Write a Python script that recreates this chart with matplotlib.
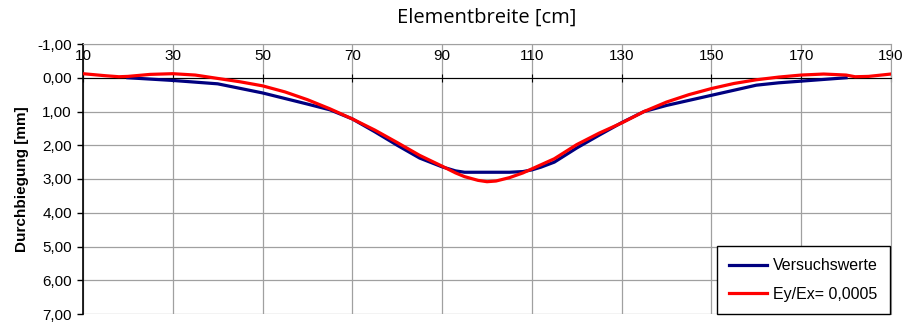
import numpy as np
import matplotlib
matplotlib.use("Agg")
from matplotlib import pyplot as plt
from matplotlib.ticker import FuncFormatter

# measured deflection (blue)
x_versuch = [20, 30, 40, 50, 60, 65, 70, 75, 80, 85, 90, 93, 95, 100, 105, 108, 110, 112, 115, 120, 125, 130, 135, 140, 150, 160, 165, 170, 180]
y_versuch = [0.00, 0.08, 0.18, 0.45, 0.78, 0.95, 1.22, 1.60, 2.00, 2.38, 2.64, 2.76, 2.80, 2.80, 2.80, 2.78, 2.73, 2.65, 2.50, 2.08, 1.70, 1.33, 1.00, 0.82, 0.52, 0.22, 0.15, 0.10, 0.00]

# computed deflection Ey/Ex = 0,0005 (red)
x_calc = [10, 15, 18, 20, 25, 30, 35, 40, 45, 50, 55, 60, 65, 70, 75, 80, 85, 90, 93, 95, 98, 100, 102, 105, 108, 110, 115, 120, 125, 130, 135, 140, 145, 150, 155, 160, 165, 170, 175, 180, 182, 185, 190]
y_calc = [-0.12, -0.06, -0.03, -0.04, -0.10, -0.12, -0.08, 0.02, 0.12, 0.24, 0.42, 0.65, 0.92, 1.22, 1.55, 1.92, 2.30, 2.62, 2.82, 2.93, 3.04, 3.08, 3.06, 2.96, 2.82, 2.70, 2.40, 1.98, 1.64, 1.34, 1.00, 0.72, 0.50, 0.32, 0.17, 0.06, -0.02, -0.08, -0.11, -0.08, -0.03, -0.04, -0.11]

x_ticks = [10, 30, 50, 70, 90, 110, 130, 150, 170, 190]
y_ticks = [-1, 0, 1, 2, 3, 4, 5, 6, 7]

plt.rcParams['font.family'] = ['Liberation Sans', 'DejaVu Sans']

fig = plt.figure(figsize=(9.03, 3.22), dpi=100)
ax = fig.add_axes([83/903, 1-314/322, 808/903, 270/322])

ax.plot(x_versuch, y_versuch, color='#000080', lw=2.3, label='Versuchswerte', zorder=3)
ax.plot(x_calc, y_calc, color='#ff0000', lw=2.3, label='Ey/Ex= 0,0005', zorder=4)

ax.set_xlim(10, 190)
ax.set_ylim(7, -1)
ax.set_xticks(x_ticks)
ax.set_yticks(y_ticks)
ax.grid(True, color='#a0a0a0', lw=0.9)
ax.set_axisbelow(True)

ax.yaxis.set_major_formatter(FuncFormatter(lambda v, p: f"{v:.2f}".replace('.', ',')))
ax.tick_params(axis='y', direction='out', length=4, width=1, labelsize=11, pad=4)

# x axis line crosses at 0, labels sit inside the top of the plot
ax.spines['bottom'].set_position(('data', 0))
ax.spines['bottom'].set_color('black')
ax.tick_params(axis='x', which='both', bottom=True, top=False, direction='inout', length=6,
               labelbottom=False, labeltop=True, labelsize=11, pad=-17)
for s in ['top', 'right']:
    ax.spines[s].set_color('#a0a0a0')
ax.spines['left'].set_color('black')
ax.spines['left'].set_linewidth(1.2)

ax.text(0.5, 1.0 + 26/270, 'Elementbreite [cm]', transform=ax.transAxes,
        ha='center', va='center', fontsize=14.5, family=['Open Sans', 'DejaVu Sans'])
ax.set_ylabel('Durchbiegung [mm]', fontsize=11, fontweight='bold', labelpad=6)

leg = ax.legend(loc='lower right', bbox_to_anchor=(0.9985, 0.0), borderaxespad=0,
                fancybox=False, edgecolor='black', framealpha=1, fontsize=11.5,
                handlelength=2.4, labelspacing=0.85, borderpad=0.75, handletextpad=0.35)
leg.get_frame().set_linewidth(1.0)

fig.savefig('out.png', dpi=100)
